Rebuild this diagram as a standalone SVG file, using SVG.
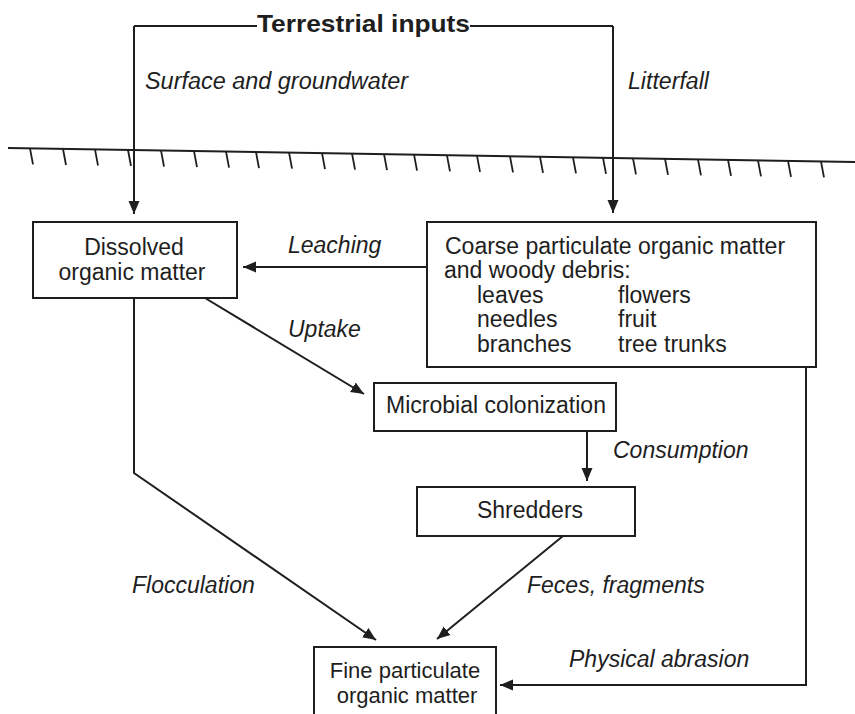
<svg xmlns="http://www.w3.org/2000/svg" width="855" height="714" viewBox="0 0 855 714">
<defs>
<marker id="ah" markerUnits="userSpaceOnUse" markerWidth="14" markerHeight="12" refX="13" refY="6" orient="auto">
<path d="M0,0.5 L13,6 L0,11.5 z" fill="#1e1e1e"/>
</marker>
<style>
.box{fill:#fff;stroke:#1e1e1e;stroke-width:2}
.ln{fill:none;stroke:#1e1e1e;stroke-width:2}
.ar{fill:none;stroke:#1e1e1e;stroke-width:2;marker-end:url(#ah)}
.t{font-family:"Liberation Sans",Arial,sans-serif;font-size:23px;fill:#1e1e1e}
.s{font-family:"Liberation Sans",Arial,sans-serif;font-size:22px;fill:#1e1e1e}
.i{font-family:"Liberation Sans",Arial,sans-serif;font-size:23px;font-style:italic;fill:#1e1e1e}
.b{font-family:"Liberation Sans",Arial,sans-serif;font-size:24px;font-weight:bold;fill:#1e1e1e}
.tk{stroke:#1e1e1e;stroke-width:1.8}
</style>
</defs>
<rect width="855" height="714" fill="#fff"/>
<g id="ground">
<line class="ln" x1="8" y1="148" x2="855" y2="162"/>
<g class="tk">
<line x1="30" y1="148.4" x2="33" y2="164.4"/>
<line x1="63" y1="149" x2="66" y2="165"/>
<line x1="95" y1="149.5" x2="98" y2="165.5"/>
<line x1="128" y1="150" x2="131" y2="166"/>
<line x1="161" y1="150.6" x2="164" y2="166.6"/>
<line x1="194" y1="151.1" x2="197" y2="167.1"/>
<line x1="226" y1="151.6" x2="229" y2="167.6"/>
<line x1="256" y1="152.1" x2="259" y2="168.1"/>
<line x1="289" y1="152.7" x2="292" y2="168.7"/>
<line x1="322" y1="153.2" x2="325" y2="169.2"/>
<line x1="352" y1="153.7" x2="355" y2="169.7"/>
<line x1="384" y1="154.2" x2="387" y2="170.2"/>
<line x1="414" y1="154.7" x2="417" y2="170.7"/>
<line x1="447" y1="155.3" x2="450" y2="171.3"/>
<line x1="477" y1="155.8" x2="480" y2="171.8"/>
<line x1="510" y1="156.3" x2="513" y2="172.3"/>
<line x1="540" y1="156.8" x2="543" y2="172.8"/>
<line x1="573" y1="157.4" x2="576" y2="173.4"/>
<line x1="603" y1="157.9" x2="606" y2="173.9"/>
<line x1="633" y1="158.4" x2="636" y2="174.4"/>
<line x1="665" y1="158.9" x2="668" y2="174.9"/>
<line x1="698" y1="159.4" x2="701" y2="175.4"/>
<line x1="728" y1="159.9" x2="731" y2="175.9"/>
<line x1="758" y1="160.4" x2="761" y2="176.4"/>
<line x1="788" y1="160.9" x2="791" y2="176.9"/>
<line x1="821" y1="161.4" x2="824" y2="177.4"/>
</g>
</g>
<g id="terrestrial">
<text class="b" x="257" y="32" textLength="213" lengthAdjust="spacingAndGlyphs">Terrestrial inputs</text>
</g>
<g id="doc">
<rect class="box" x="33" y="222" width="204" height="76"/>
<text class="t" x="134" y="255" text-anchor="middle">Dissolved</text>
<text class="t" x="132" y="280" text-anchor="middle">organic matter</text>
</g>
<g id="cpom">
<rect class="box" x="427" y="222" width="389" height="145"/>
<text class="t" x="445" y="254">Coarse particulate organic matter</text>
<text class="t" x="444" y="278">and woody debris:</text>
<text class="t" x="477" y="303">leaves</text>
<text class="t" x="618" y="303">flowers</text>
<text class="t" x="477" y="327">needles</text>
<text class="t" x="618" y="327">fruit</text>
<text class="t" x="477" y="352">branches</text>
<text class="t" x="618" y="352">tree trunks</text>
</g>
<g id="microbial">
<rect class="box" x="374" y="383" width="242" height="48"/>
<text class="t" x="496" y="413" text-anchor="middle">Microbial colonization</text>
</g>
<g id="shredders">
<rect class="box" x="417" y="487" width="218" height="49"/>
<text class="t" x="530" y="518" text-anchor="middle">Shredders</text>
</g>
<g id="fpom">
<rect class="box" x="314" y="647" width="182" height="80"/>
<text class="s" x="405" y="678" text-anchor="middle">Fine particulate</text>
<text class="s" x="407" y="703" text-anchor="middle">organic matter</text>
</g>
<g id="connectors">
<polyline class="ln" points="257,26 134,26"/>
<polyline class="ln" points="470,26 613,26"/>
<line class="ar" x1="134" y1="26" x2="134" y2="214"/>
<line class="ar" x1="613" y1="26" x2="613" y2="213"/>
<line class="ar" x1="427" y1="267" x2="243" y2="267"/>
<line class="ar" x1="205" y1="298" x2="364" y2="394"/>
<line class="ar" x1="587" y1="431" x2="587" y2="481"/>
<line class="ar" x1="563" y1="536" x2="437" y2="639"/>
<polyline class="ar" points="134,298 134,473 376,640"/>
<polyline class="ar" points="806,367 806,685 500,685"/>
</g>
<g id="labels">
<text class="i" x="145" y="89" textLength="263" lengthAdjust="spacingAndGlyphs">Surface and groundwater</text>
<text class="i" x="628" y="89" textLength="81" lengthAdjust="spacingAndGlyphs">Litterfall</text>
<text class="i" x="288" y="253">Leaching</text>
<text class="i" x="288" y="337">Uptake</text>
<text class="i" x="613" y="458">Consumption</text>
<text class="i" x="527" y="593">Feces, fragments</text>
<text class="i" x="132" y="593">Flocculation</text>
<text class="i" x="569" y="667">Physical abrasion</text>
</g>
</svg>
